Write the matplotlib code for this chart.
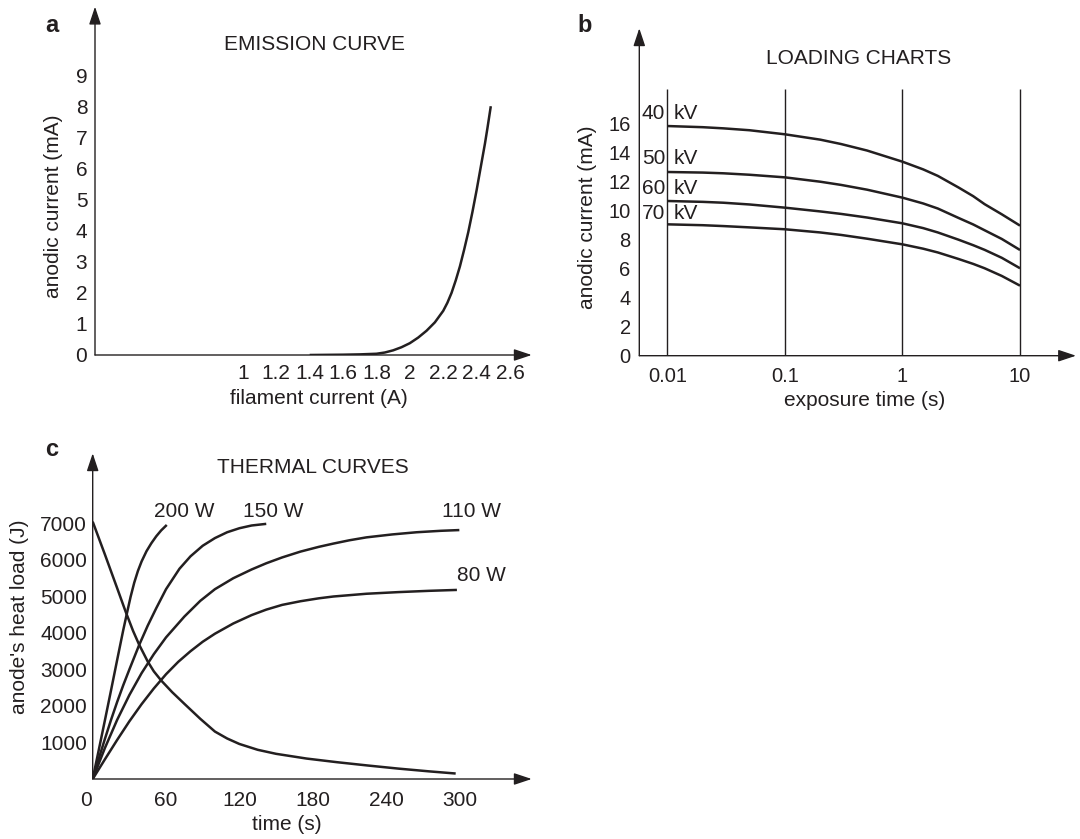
import matplotlib
matplotlib.use("Agg")
import matplotlib.pyplot as plt
from matplotlib.transforms import ScaledTranslation

plt.rcParams['font.family'] = ['Liberation Sans', 'DejaVu Sans']
INK = '#231f20'

# ---------------- data ----------------
# (a) emission curve
filament_current = [1.4, 1.5, 1.6, 1.7, 1.8, 1.85, 1.9, 1.95, 2.0, 2.05, 2.1, 2.15,
                    2.2, 2.225, 2.25, 2.275, 2.3, 2.325, 2.35, 2.375, 2.4, 2.425, 2.45,
                    2.465, 2.485]
emission_anodic = [0, 0.005, 0.01, 0.02, 0.04, 0.08, 0.15, 0.25, 0.38, 0.56, 0.78, 1.05,
                   1.42, 1.68, 2.0, 2.4, 2.85, 3.38, 3.95, 4.6, 5.3, 6.05, 6.8,
                   7.3, 8.0]
a_xticks = [1, 1.2, 1.4, 1.6, 1.8, 2, 2.2, 2.4, 2.6]
a_xticklabels = ['1', '1.2', '1.4', '1.6', '1.8', '2', '2.2', '2.4', '2.6']
a_yticks = [0, 1, 2, 3, 4, 5, 6, 7, 8, 9]

# (b) loading charts
exposure_time = [0.01, 0.02, 0.03, 0.05, 0.1, 0.2, 0.3, 0.5, 1, 1.5, 2, 3, 4, 5, 7, 10]
load_40kv = [15.84, 15.76, 15.68, 15.55, 15.27, 14.9, 14.6, 14.15, 13.38, 12.85, 12.4,
             11.6, 11.0, 10.45, 9.75, 8.97]
load_50kv = [12.67, 12.63, 12.58, 12.48, 12.3, 12.0, 11.78, 11.45, 10.9, 10.5, 10.15,
             9.5, 9.05, 8.65, 8.05, 7.29]
load_60kv = [10.67, 10.61, 10.55, 10.43, 10.21, 9.95, 9.78, 9.53, 9.13, 8.8, 8.5,
             8.0, 7.62, 7.3, 6.75, 6.03]
load_70kv = [9.06, 9.0, 8.94, 8.85, 8.72, 8.5, 8.33, 8.07, 7.68, 7.38, 7.12,
             6.67, 6.33, 6.03, 5.5, 4.83]
kv_labels = ['40', '50', '60', '70']
kv_label_y = [16.7, 13.6, 11.55, 9.82]
b_grid = [0.01, 0.1, 1, 10]
b_gridlabels = ['0.01', '0.1', '1', '10']
b_yticks = [0, 2, 4, 6, 8, 10, 12, 14, 16]

# (c) thermal curves
t_200w = [0, 5, 10, 15, 20, 25, 28, 31, 34, 37, 40, 44, 48, 52, 56, 60.6]
heat_200w = [0, 800, 1610, 2430, 3260, 4080, 4540, 4990, 5380, 5700, 5960, 6240, 6460,
             6650, 6810, 6960]
t_150w = [0, 5, 10, 15, 20, 25, 30, 38, 45, 52, 60, 71, 80, 90, 100, 110, 120, 130, 142]
heat_150w = [0, 560, 1100, 1620, 2110, 2570, 3000, 3670, 4200, 4680, 5200, 5760, 6100,
             6390, 6600, 6760, 6870, 6945, 6990]
t_110w = [0, 10, 20, 30, 40, 50, 60, 75, 88, 100, 115, 130, 142, 155, 170, 185, 197,
          210, 224, 245, 265, 285, 300]
heat_110w = [0, 850, 1620, 2300, 2900, 3420, 3880, 4450, 4880, 5200, 5500, 5740, 5910,
             6070, 6230, 6360, 6450, 6540, 6620, 6700, 6760, 6800, 6820]
t_80w = [0, 10, 20, 30, 40, 50, 60, 70, 80, 90, 100, 115, 130, 142, 155, 170, 185, 197,
         224, 250, 275, 298]
heat_80w = [0, 540, 1070, 1580, 2050, 2480, 2870, 3210, 3500, 3760, 3980, 4260, 4490,
            4640, 4770, 4870, 4950, 5000, 5075, 5120, 5155, 5180]
t_cool = [0, 10, 20, 27, 33, 38, 45, 50, 56, 65, 75, 88, 100, 110, 120, 135, 150, 175,
          200, 225, 250, 275, 297]
heat_cool = [7050, 6150, 5230, 4580, 4060, 3680, 3220, 2950, 2700, 2380, 2060, 1650, 1300,
             1110, 960, 800, 690, 560, 460, 370, 285, 210, 150]
power_labels = ['200 W', '150 W', '110 W', '80 W']
c_xticks = [0, 60, 120, 180, 240, 300]
c_yticks = [1000, 2000, 3000, 4000, 5000, 6000, 7000]

# ---------------- figure ----------------
W, H = 1080, 839
fig = plt.figure(figsize=(W / 100, H / 100), dpi=100)


def add_axes_px(left, right, top, bottom):
    return fig.add_axes([left / W, 1 - bottom / H, (right - left) / W, (bottom - top) / H])


def ftext(x, y, s, **kw):
    kw.setdefault('color', INK)
    fig.text(x / W, 1 - y / H, s, **kw)


def arrow_axes(ax):
    for sp in ax.spines.values():
        sp.set_visible(False)
    props = dict(arrowstyle='-|>,head_length=0.9,head_width=0.3', color=INK, lw=1.0,
                 shrinkA=0, shrinkB=0, mutation_scale=12)
    ax.annotate('', xy=(1, 0), xytext=(0, 0), xycoords='axes fraction',
                textcoords='axes fraction', arrowprops=props)
    ax.annotate('', xy=(0, 1), xytext=(0, 0), xycoords='axes fraction',
                textcoords='axes fraction', arrowprops=props)
    ax.set_facecolor('none')


LW = 1.8
FS = 15
line_kw = dict(color=INK, lw=LW, solid_joinstyle='round', solid_capstyle='butt')

# ----- panel a -----
axa = add_axes_px(95, 531.7, 6.7, 355)
arrow_axes(axa)
axa.plot(filament_current, emission_anodic, **line_kw)
axa.set_xlim(0.114, 2.73)
axa.set_ylim(0, 11.2)
axa.set_xticks(a_xticks)
axa.set_xticklabels(a_xticklabels)
axa.set_yticks(a_yticks)
axa.tick_params(axis='x', length=0, labelsize=FS, pad=6.5, colors=INK)
axa.tick_params(axis='y', length=0, labelsize=FS, pad=5.5, colors=INK)
ftext(51.7, 26, 'a', fontsize=17, fontweight='bold', ha='center', va='center')
ftext(315, 50.5, 'EMISSION CURVE', fontsize=FS, ha='center', va='baseline')
ftext(54, 206.5, 'anodic current (mA)', fontsize=FS, rotation=90, ha='center', va='center')
ftext(319, 403.5, 'filament current (A)', fontsize=FS, ha='center', va='baseline')

# ----- panel b -----
axb = add_axes_px(639.3, 1076, 28.3, 355.7)
arrow_axes(axb)
axb.set_xscale('log')
axb.set_xlim(10 ** -2.238, 10 ** 1.476)
axb.set_ylim(0, 22.58)
axb.vlines(b_grid, 0, 18.37, color=INK, lw=1.0)
for series in (load_40kv, load_50kv, load_60kv, load_70kv):
    axb.plot(exposure_time, series, **line_kw)
for lab, yv in zip(kv_labels, kv_label_y):
    axb.annotate(lab, xy=(b_grid[0], yv), xytext=(-2, 0), textcoords='offset pixels',
                 ha='right', va='center', fontsize=FS, color=INK)
    axb.annotate('kV', xy=(b_grid[0], yv), xytext=(6, 0), textcoords='offset pixels',
                 ha='left', va='center', fontsize=FS, color=INK)
axb.set_xticks(b_grid)
axb.set_xticklabels(b_gridlabels)
axb.xaxis.set_minor_locator(matplotlib.ticker.NullLocator())
axb.set_yticks(b_yticks)
axb.tick_params(axis='x', length=0, labelsize=14.5, pad=8.4, colors=INK)
axb.tick_params(axis='y', length=0, labelsize=14.5, pad=6.2, colors=INK)
ftext(585, 25, 'b', fontsize=17, fontweight='bold', ha='center', va='center')
ftext(859, 64, 'LOADING CHARTS', fontsize=FS, ha='center', va='baseline')
ftext(587.4, 217, 'anodic current (mA)', fontsize=FS, rotation=90, ha='center', va='center')
ftext(865, 406.5, 'exposure time (s)', fontsize=FS, ha='center', va='baseline')

# ----- panel c -----
axc = add_axes_px(92.7, 531.7, 453.3, 779)
arrow_axes(axc)
axc.set_xlim(0, 359.2)
axc.set_ylim(0, 8923)
for tt, hh in ((t_200w, heat_200w), (t_150w, heat_150w), (t_110w, heat_110w),
               (t_80w, heat_80w), (t_cool, heat_cool)):
    axc.plot(tt, hh, **line_kw)
axc.set_xticks(c_xticks)
axc.set_yticks(c_yticks)
axc.tick_params(axis='x', length=0, labelsize=FS, pad=9, colors=INK)
axc.tick_params(axis='y', length=0, labelsize=FS, pad=4, colors=INK)
# the "0" label sits slightly left of the axis corner in the original
zero_lab = axc.xaxis.get_major_ticks()[0].label1
zero_lab.set_transform(zero_lab.get_transform() +
                       ScaledTranslation(-0.07, 0, fig.dpi_scale_trans))
label_px = [(184, 511.6), (273.3, 511.6), (471.6, 511.6), (481, 575.8)]
for lab, (px, py) in zip(power_labels, label_px):
    ftext(px, py, lab, fontsize=FS, ha='center', va='center')
ftext(51.5, 450, 'c', fontsize=17, fontweight='bold', ha='center', va='center')
ftext(312.7, 473.3, 'THERMAL CURVES', fontsize=FS, ha='center', va='baseline')
ftext(19.8, 616.5, "anode's heat load (J)", fontsize=FS, rotation=90, ha='center', va='center')
ftext(286.6, 830.4, 'time (s)', fontsize=FS, ha='center', va='baseline')

fig.savefig('out.png', dpi=100)
